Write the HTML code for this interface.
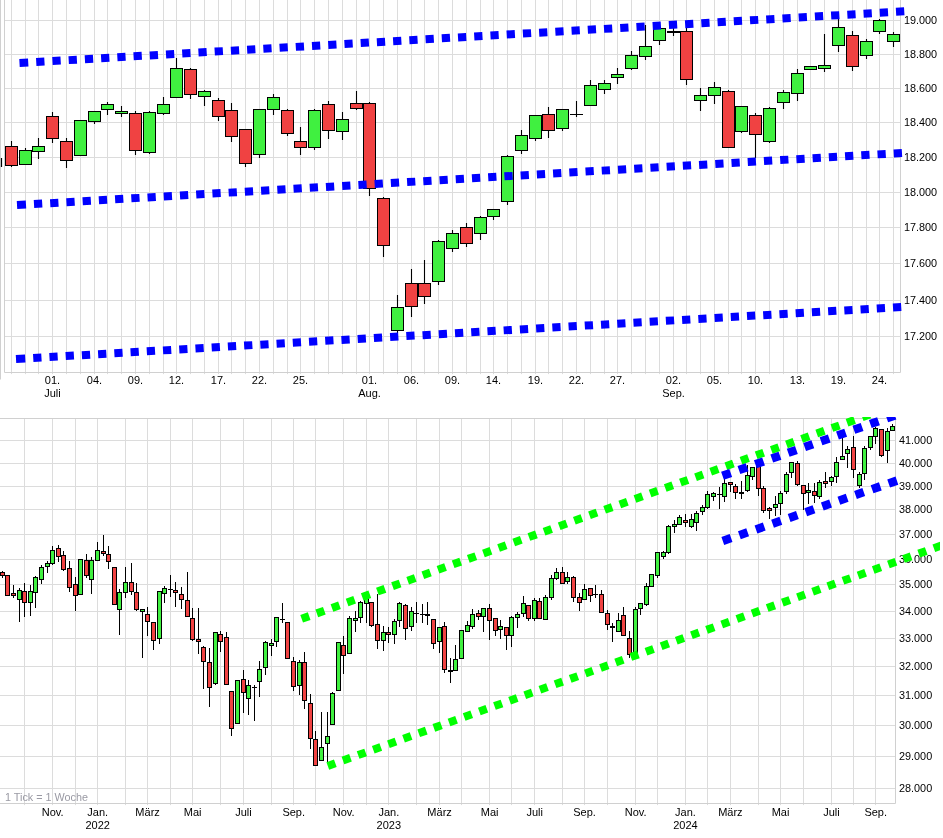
<!DOCTYPE html>
<html lang="de"><head><meta charset="utf-8"><title>Chart</title>
<style>html,body{margin:0;padding:0;background:#fff;}body{width:943px;height:838px;overflow:hidden;}svg{display:block;}</style>
</head><body>
<svg width="943" height="838" viewBox="0 0 943 838">
<rect width="943" height="838" fill="#fff"/>
<g id="top">
<path d="M11.5 0V374.1M25.5 0V374.1M38.5 0V374.1M52.5 0V374.1M66.5 0V374.1M80.5 0V374.1M94.5 0V374.1M107.5 0V374.1M121.5 0V374.1M135.5 0V374.1M149.5 0V374.1M163.5 0V374.1M176.5 0V374.1M190.5 0V374.1M204.5 0V374.1M218.5 0V374.1M231.5 0V374.1M245.5 0V374.1M259.5 0V374.1M273.5 0V374.1M287.5 0V374.1M300.5 0V374.1M314.5 0V374.1M328.5 0V374.1M342.5 0V374.1M356.5 0V374.1M369.5 0V374.1M383.5 0V374.1M397.5 0V374.1M411.5 0V374.1M424.5 0V374.1M438.5 0V374.1M452.5 0V374.1M466.5 0V374.1M480.5 0V374.1M493.5 0V374.1M507.5 0V374.1M521.5 0V374.1M535.5 0V374.1M548.5 0V374.1M562.5 0V374.1M576.5 0V374.1M590.5 0V374.1M604.5 0V374.1M617.5 0V374.1M631.5 0V374.1M645.5 0V374.1M659.5 0V374.1M673.5 0V374.1M686.5 0V374.1M700.5 0V374.1M714.5 0V374.1M728.5 0V374.1M741.5 0V374.1M755.5 0V374.1M769.5 0V374.1M783.5 0V374.1M797.5 0V374.1M810.5 0V374.1M824.5 0V374.1M838.5 0V374.1M852.5 0V374.1M866.5 0V374.1M879.5 0V374.1M893.5 0V374.1M4.5 336.5H900.5M4.5 300.5H900.5M4.5 263.5H900.5M4.5 227.5H900.5M4.5 192.5H900.5M4.5 157.5H900.5M4.5 122.5H900.5M4.5 88.5H900.5M4.5 54.5H900.5M4.5 20.5H900.5" stroke="#dcdcdc" stroke-width="1" fill="none"/>
<path d="M4.5 0V372.5H900.5V0" stroke="#d0d0d0" stroke-width="1" fill="none"/>
<path d="M0.5 0V379.5" stroke="#d0d0d0" stroke-width="1" fill="none"/>
<path d="M1.5 158V167" stroke="#000" stroke-width="1.2"/>
<path d="M11.5 141V167M25.5 148V165M38.5 138V159M52.5 112V143M66.5 138V168M80.5 120V156M94.5 111V124M107.5 102V115M121.5 106V117M135.5 111V155M149.5 111V154M163.5 97V115M176.5 58V98M190.5 68V99M204.5 90V106M218.5 98V121M231.5 103V142M245.5 129V167M259.5 109V158M273.5 94V115M287.5 109V136M300.5 127V155M314.5 109V150M328.5 101V139M342.5 112V140M356.5 91V110M369.5 102V196M383.5 197V257M397.5 295V333M411.5 269V317M424.5 260V304M438.5 240V285M452.5 230V252M466.5 223V247M480.5 216V240M493.5 209V220M507.5 155V205M521.5 130V154M535.5 115V141M548.5 107V138M562.5 109V131M576.5 101V117M590.5 80V106M604.5 80V94M617.5 68V84M631.5 51V70M645.5 25V60M659.5 28V45M673.5 28V36M686.5 28V85M700.5 88V111M714.5 82V104M728.5 90V148M741.5 106V133M755.5 113V158M769.5 107V143M783.5 90V109M797.5 69V101M810.5 66V70M824.5 34V72M838.5 19V52M852.5 31V71M866.5 39V59M879.5 19V34M893.5 32V47" stroke="#000" stroke-width="1.1" fill="none"/>
<rect x="5.5" y="146.5" width="12" height="19" fill="#f04242" stroke="#000" stroke-width="1"/><rect x="19.5" y="150.5" width="12" height="14" fill="#40f040" stroke="#000" stroke-width="1"/><rect x="32.5" y="146.5" width="12" height="5" fill="#40f040" stroke="#000" stroke-width="1"/><rect x="46.5" y="116.5" width="12" height="22" fill="#f04242" stroke="#000" stroke-width="1"/><rect x="60.5" y="141.5" width="12" height="19" fill="#f04242" stroke="#000" stroke-width="1"/><rect x="74.5" y="120.5" width="12" height="35" fill="#40f040" stroke="#000" stroke-width="1"/><rect x="88.5" y="111.5" width="12" height="10" fill="#40f040" stroke="#000" stroke-width="1"/><rect x="101.5" y="104.5" width="12" height="5" fill="#40f040" stroke="#000" stroke-width="1"/><rect x="115.5" y="111.5" width="12" height="2" fill="#40f040" stroke="#000" stroke-width="1"/><rect x="129.5" y="113.5" width="12" height="37" fill="#f04242" stroke="#000" stroke-width="1"/><rect x="143.5" y="112.5" width="12" height="40" fill="#40f040" stroke="#000" stroke-width="1"/><rect x="157.5" y="104.5" width="12" height="9" fill="#40f040" stroke="#000" stroke-width="1"/><rect x="170.5" y="68.5" width="12" height="29" fill="#40f040" stroke="#000" stroke-width="1"/><rect x="184.5" y="69.5" width="12" height="25" fill="#f04242" stroke="#000" stroke-width="1"/><rect x="198.5" y="91.5" width="12" height="5" fill="#40f040" stroke="#000" stroke-width="1"/><rect x="212.5" y="100.5" width="12" height="16" fill="#f04242" stroke="#000" stroke-width="1"/><rect x="225.5" y="110.5" width="12" height="26" fill="#f04242" stroke="#000" stroke-width="1"/><rect x="239.5" y="129.5" width="12" height="34" fill="#f04242" stroke="#000" stroke-width="1"/><rect x="253.5" y="109.5" width="12" height="45" fill="#40f040" stroke="#000" stroke-width="1"/><rect x="267.5" y="97.5" width="12" height="12" fill="#40f040" stroke="#000" stroke-width="1"/><rect x="281.5" y="110.5" width="12" height="23" fill="#f04242" stroke="#000" stroke-width="1"/><rect x="294.5" y="141.5" width="12" height="6" fill="#f04242" stroke="#000" stroke-width="1"/><rect x="308.5" y="110.5" width="12" height="37" fill="#40f040" stroke="#000" stroke-width="1"/><rect x="322.5" y="104.5" width="12" height="26" fill="#f04242" stroke="#000" stroke-width="1"/><rect x="336.5" y="119.5" width="12" height="12" fill="#40f040" stroke="#000" stroke-width="1"/><rect x="350.5" y="103.5" width="12" height="5" fill="#f04242" stroke="#000" stroke-width="1"/><rect x="363.5" y="103.5" width="12" height="85" fill="#f04242" stroke="#000" stroke-width="1"/><rect x="377.5" y="198.5" width="12" height="47" fill="#f04242" stroke="#000" stroke-width="1"/><rect x="391.5" y="307.5" width="12" height="23" fill="#40f040" stroke="#000" stroke-width="1"/><rect x="405.5" y="283.5" width="12" height="23" fill="#f04242" stroke="#000" stroke-width="1"/><rect x="418.5" y="283.5" width="12" height="13" fill="#f04242" stroke="#000" stroke-width="1"/><rect x="432.5" y="241.5" width="12" height="40" fill="#40f040" stroke="#000" stroke-width="1"/><rect x="446.5" y="233.5" width="12" height="15" fill="#40f040" stroke="#000" stroke-width="1"/><rect x="460.5" y="227.5" width="12" height="16" fill="#f04242" stroke="#000" stroke-width="1"/><rect x="474.5" y="217.5" width="12" height="16" fill="#40f040" stroke="#000" stroke-width="1"/><rect x="487.5" y="209.5" width="12" height="7" fill="#40f040" stroke="#000" stroke-width="1"/><rect x="501.5" y="156.5" width="12" height="45" fill="#40f040" stroke="#000" stroke-width="1"/><rect x="515.5" y="135.5" width="12" height="15" fill="#40f040" stroke="#000" stroke-width="1"/><rect x="529.5" y="115.5" width="12" height="23" fill="#40f040" stroke="#000" stroke-width="1"/><rect x="542.5" y="114.5" width="12" height="16" fill="#f04242" stroke="#000" stroke-width="1"/><rect x="556.5" y="109.5" width="12" height="19" fill="#40f040" stroke="#000" stroke-width="1"/><rect x="570" y="114" width="13" height="1" fill="#000"/><rect x="584.5" y="85.5" width="12" height="20" fill="#40f040" stroke="#000" stroke-width="1"/><rect x="598.5" y="83.5" width="12" height="6" fill="#40f040" stroke="#000" stroke-width="1"/><rect x="611.5" y="74.5" width="12" height="3" fill="#40f040" stroke="#000" stroke-width="1"/><rect x="625.5" y="55.5" width="12" height="13" fill="#40f040" stroke="#000" stroke-width="1"/><rect x="639.5" y="46.5" width="12" height="10" fill="#40f040" stroke="#000" stroke-width="1"/><rect x="653.5" y="28.5" width="12" height="12" fill="#40f040" stroke="#000" stroke-width="1"/><rect x="667" y="31" width="13" height="2" fill="#000"/><rect x="680.5" y="31.5" width="12" height="48" fill="#f04242" stroke="#000" stroke-width="1"/><rect x="694.5" y="95.5" width="12" height="5" fill="#40f040" stroke="#000" stroke-width="1"/><rect x="708.5" y="87.5" width="12" height="8" fill="#40f040" stroke="#000" stroke-width="1"/><rect x="722.5" y="91.5" width="12" height="56" fill="#f04242" stroke="#000" stroke-width="1"/><rect x="735.5" y="106.5" width="12" height="25" fill="#40f040" stroke="#000" stroke-width="1"/><rect x="749.5" y="115.5" width="12" height="19" fill="#f04242" stroke="#000" stroke-width="1"/><rect x="763.5" y="108.5" width="12" height="33" fill="#40f040" stroke="#000" stroke-width="1"/><rect x="777.5" y="92.5" width="12" height="10" fill="#40f040" stroke="#000" stroke-width="1"/><rect x="791.5" y="73.5" width="12" height="20" fill="#40f040" stroke="#000" stroke-width="1"/><rect x="804.5" y="66.5" width="12" height="3" fill="#40f040" stroke="#000" stroke-width="1"/><rect x="818.5" y="65.5" width="12" height="3" fill="#40f040" stroke="#000" stroke-width="1"/><rect x="832.5" y="27.5" width="12" height="18" fill="#40f040" stroke="#000" stroke-width="1"/><rect x="846.5" y="35.5" width="12" height="31" fill="#f04242" stroke="#000" stroke-width="1"/><rect x="860.5" y="41.5" width="12" height="14" fill="#40f040" stroke="#000" stroke-width="1"/><rect x="873.5" y="20.5" width="12" height="11" fill="#40f040" stroke="#000" stroke-width="1"/><rect x="887.5" y="34.5" width="12" height="7" fill="#40f040" stroke="#000" stroke-width="1"/>
<line x1="19.5" y1="63" x2="905" y2="11.3" stroke="#0000ff" stroke-width="8" stroke-dasharray="8.75 8 8.25 8 8.25 8 8.25 8 8.25 8 8.25 8 8.25 8 8.25 8 8.25 8 8.25 8 8.25 8 8.25 8 8.25 8 8.25 8 8.25 8 8.25 8 8.25 8 8.25 8 8.25 8 8.25 8 8.25 8 8.25 8 8.25 8 8.25 8 8.25 8 8.25 8 8.25 8 8.25 8 8.25 8 8.25 8 8.25 8 8.25 8 8.25 8 8.25 8 8.25 8 8.25 8 8.25 8 8.25 8 8.25 8 8.25 8 8.25 8 8.25 8 8.25 8 8.25 8 8.25 8 8.25 8 8.25 8 8.25 8 8.25 8 8.25 8 8.25 8 8.25 8 8.25 8 8.25 8 8.25 8 8.25 8 8.25 8"/>
<line x1="17" y1="205.1" x2="903.5" y2="152.84" stroke="#0000ff" stroke-width="8" stroke-dasharray="9 8 8.25 8 8.25 8 8.25 8 8.25 8 8.25 8 8.25 8 8.25 8 8.25 8 8.25 8 8.25 8 8.25 8 8.25 8 8.25 8 8.25 8 8.25 8 8.25 8 8.25 8 8.25 8 8.25 8 8.25 8 8.25 8 8.25 8 8.25 8 8.25 8 8.25 8 8.25 8 8.25 8 8.25 8 8.25 8 8.25 8 8.25 8 8.25 8 8.25 8 8.25 8 8.25 8 8.25 8 8.25 8 8.25 8 8.25 8 8.25 8 8.25 8 8.25 8 8.25 8 8.25 8 8.25 8 8.25 8 8.25 8 8.25 8 8.25 8 8.25 8 8.25 8 8.25 8 8.25 8 8.25 8 8.25 8 8.25 8"/>
<line x1="16" y1="359" x2="902.8" y2="306.95" stroke="#0000ff" stroke-width="8" stroke-dasharray="9.25 8 8.25 8 8.25 8 8.25 8 8.25 8 8.25 8 8.25 8 8.25 8 8.25 8 8.25 8 8.25 8 8.25 8 8.25 8 8.25 8 8.25 8 8.25 8 8.25 8 8.25 8 8.25 8 8.25 8 8.25 8 8.25 8 8.25 8 8.25 8 8.25 8 8.25 8 8.25 8 8.25 8 8.25 8 8.25 8 8.25 8 8.25 8 8.25 8 8.25 8 8.25 8 8.25 8 8.25 8 8.25 8 8.25 8 8.25 8 8.25 8 8.25 8 8.25 8 8.25 8 8.25 8 8.25 8 8.25 8 8.25 8 8.25 8 8.25 8 8.25 8 8.25 8 8.25 8 8.25 8 8.25 8 8.25 8 8.25 8"/>
<g font-family='"Liberation Sans", Arial, sans-serif' font-size="11" fill="#000">
<text x="903.9" y="340.1" font-size="10.85">17.200</text>
<text x="903.9" y="304.1" font-size="10.85">17.400</text>
<text x="903.9" y="267.1" font-size="10.85">17.600</text>
<text x="903.9" y="231.1" font-size="10.85">17.800</text>
<text x="903.9" y="196.1" font-size="10.85">18.000</text>
<text x="903.9" y="161.1" font-size="10.85">18.200</text>
<text x="903.9" y="126.1" font-size="10.85">18.400</text>
<text x="903.9" y="92.1" font-size="10.85">18.600</text>
<text x="903.9" y="58.1" font-size="10.85">18.800</text>
<text x="903.9" y="24.1" font-size="10.85">19.000</text>
<text x="52.5" y="384.2" text-anchor="middle">01.</text>
<text x="52.5" y="397.2" text-anchor="middle">Juli</text>
<text x="94.5" y="384.2" text-anchor="middle">04.</text>
<text x="135.5" y="384.2" text-anchor="middle">09.</text>
<text x="176.5" y="384.2" text-anchor="middle">12.</text>
<text x="218.5" y="384.2" text-anchor="middle">17.</text>
<text x="259.5" y="384.2" text-anchor="middle">22.</text>
<text x="300.5" y="384.2" text-anchor="middle">25.</text>
<text x="369.5" y="384.2" text-anchor="middle">01.</text>
<text x="369.5" y="397.2" text-anchor="middle">Aug.</text>
<text x="411.5" y="384.2" text-anchor="middle">06.</text>
<text x="452.5" y="384.2" text-anchor="middle">09.</text>
<text x="493.5" y="384.2" text-anchor="middle">14.</text>
<text x="535.5" y="384.2" text-anchor="middle">19.</text>
<text x="576.5" y="384.2" text-anchor="middle">22.</text>
<text x="617.5" y="384.2" text-anchor="middle">27.</text>
<text x="673.5" y="384.2" text-anchor="middle">02.</text>
<text x="673.5" y="397.2" text-anchor="middle">Sep.</text>
<text x="714.5" y="384.2" text-anchor="middle">05.</text>
<text x="755.5" y="384.2" text-anchor="middle">10.</text>
<text x="797.5" y="384.2" text-anchor="middle">13.</text>
<text x="838.5" y="384.2" text-anchor="middle">19.</text>
<text x="879.5" y="384.2" text-anchor="middle">24.</text>
</g></g>
<g id="bot">
<path d="M24.5 418.5V805.1M52.5 418.5V805.1M75.5 418.5V805.1M97.5 418.5V805.1M125.5 418.5V805.1M147.5 418.5V805.1M170.5 418.5V805.1M192.5 418.5V805.1M220.5 418.5V805.1M243.5 418.5V805.1M271.5 418.5V805.1M293.5 418.5V805.1M315.5 418.5V805.1M343.5 418.5V805.1M366.5 418.5V805.1M388.5 418.5V805.1M416.5 418.5V805.1M439.5 418.5V805.1M461.5 418.5V805.1M489.5 418.5V805.1M511.5 418.5V805.1M534.5 418.5V805.1M562.5 418.5V805.1M584.5 418.5V805.1M607.5 418.5V805.1M635.5 418.5V805.1M657.5 418.5V805.1M685.5 418.5V805.1M707.5 418.5V805.1M730.5 418.5V805.1M758.5 418.5V805.1M780.5 418.5V805.1M803.5 418.5V805.1M831.5 418.5V805.1M853.5 418.5V805.1M875.5 418.5V805.1M0 788.5H895.5M0 756.5H895.5M0 725.5H895.5M0 695.5H895.5M0 666.5H895.5M0 638.5H895.5M0 611.5H895.5M0 584.5H895.5M0 559.5H895.5M0 534.5H895.5M0 509.5H895.5M0 486.5H895.5M0 463.5H895.5M0 440.5H895.5" stroke="#dcdcdc" stroke-width="1" fill="none"/>
<path d="M0 418.5H895.5V803.5H0" stroke="#d0d0d0" stroke-width="1" fill="none"/>
<text x="5" y="800.5" font-family='"Liberation Sans", Arial, sans-serif' font-size="10.8" fill="#9a9aa4">1 Tick = 1 Woche</text>
<path d="M2.5 571V578M7.5 575V596M13.5 585V598M19.5 588V622M24.5 583V617M30.5 585V616M35.5 576V608M41.5 565V584M47.5 561V573M52.5 546V565M58.5 545V562M63.5 551V571M69.5 561V592M75.5 577V611M80.5 559V595M86.5 554V578M91.5 557V594M97.5 542V561M103.5 535V556M108.5 546V569M114.5 567V605M119.5 589V635M125.5 567V598M131.5 563V595M136.5 583V611M142.5 609V658M147.5 607V636M153.5 622V650M159.5 591V644M164.5 586V603M170.5 575V597M175.5 582V607M181.5 587V609M187.5 572V617M192.5 608V641M198.5 608V654M203.5 646V689M209.5 648V707M215.5 632V685M220.5 631V652M226.5 632V685M231.5 691V736M237.5 680V724M243.5 670V713M248.5 680V715M254.5 685V721M259.5 661V697M265.5 641V675M271.5 639V656M276.5 617V647M282.5 603V623M287.5 622V659M293.5 657V691M299.5 660V695M304.5 652V709M310.5 694V749M315.5 731V766M321.5 712V761M327.5 712V762M332.5 692V725M338.5 642V691M343.5 636V674M349.5 616V654M355.5 611V632M360.5 601V623M366.5 596V623M371.5 602V627M377.5 594V649M383.5 626V651M388.5 627V643M394.5 619V644M399.5 602V627M405.5 604V640M411.5 607V631M416.5 602V623M422.5 604V623M427.5 602V625M433.5 619V649M439.5 627V653M444.5 622V673M450.5 658V683M455.5 645V671M461.5 630V659M467.5 621V632M472.5 609V629M478.5 610V620M483.5 608V632M489.5 604V640M495.5 618V636M500.5 620V639M506.5 627V650M511.5 616V647M517.5 612V628M523.5 596V617M528.5 605V621M534.5 598V621M539.5 598V619M545.5 595V620M551.5 575V600M556.5 568V580M562.5 567V584M567.5 572V584M573.5 576V602M579.5 593V611M584.5 584V600M590.5 588V602M595.5 585V598M601.5 590V613M607.5 610V630M612.5 623V642M618.5 613V632M623.5 607V636M629.5 631V658M635.5 607V653M640.5 603V615M646.5 583V606M651.5 574V587M657.5 552V578M663.5 551V559M668.5 525V554M674.5 520V533M679.5 515V525M685.5 514V527M691.5 514V528M696.5 511V531M702.5 505V515M707.5 491V509M713.5 492V501M719.5 487V509M724.5 479V502M730.5 482V492M735.5 484V499M741.5 481V499M747.5 465V492M752.5 467V480M758.5 464V496M763.5 486V513M769.5 507V519M775.5 496V516M780.5 491V515M786.5 472V494M791.5 462V478M797.5 461V486M803.5 485V510M808.5 483V504M814.5 483V503M819.5 480V499M825.5 472V488M831.5 476V486M836.5 457V483M842.5 438V460M847.5 446V468M853.5 436V478M859.5 472V488M864.5 446V480M870.5 436V450M875.5 427V444M881.5 429V457M887.5 428V463M892.5 424V431" stroke="#000" stroke-width="1" fill="none"/>
<rect x="0.5" y="572.5" width="4" height="3" fill="#f04242" stroke="#000" stroke-width="1"/><rect x="5.5" y="575.5" width="4" height="20" fill="#f04242" stroke="#000" stroke-width="1"/><rect x="11.5" y="593.5" width="4" height="2" fill="#f04242" stroke="#000" stroke-width="1"/><rect x="17.5" y="590.5" width="4" height="9" fill="#40f040" stroke="#000" stroke-width="1"/><rect x="22.5" y="591.5" width="4" height="11" fill="#f04242" stroke="#000" stroke-width="1"/><rect x="28.5" y="591.5" width="4" height="11" fill="#40f040" stroke="#000" stroke-width="1"/><rect x="33.5" y="577.5" width="4" height="15" fill="#40f040" stroke="#000" stroke-width="1"/><rect x="39.5" y="567.5" width="4" height="12" fill="#40f040" stroke="#000" stroke-width="1"/><rect x="45.5" y="563.5" width="4" height="3" fill="#40f040" stroke="#000" stroke-width="1"/><rect x="50.5" y="550.5" width="4" height="13" fill="#40f040" stroke="#000" stroke-width="1"/><rect x="56.5" y="548.5" width="4" height="8" fill="#f04242" stroke="#000" stroke-width="1"/><rect x="61.5" y="555.5" width="4" height="14" fill="#f04242" stroke="#000" stroke-width="1"/><rect x="67.5" y="568.5" width="4" height="19" fill="#f04242" stroke="#000" stroke-width="1"/><rect x="73.5" y="584.5" width="4" height="11" fill="#f04242" stroke="#000" stroke-width="1"/><rect x="78.5" y="559.5" width="4" height="35" fill="#40f040" stroke="#000" stroke-width="1"/><rect x="84.5" y="560.5" width="4" height="15" fill="#f04242" stroke="#000" stroke-width="1"/><rect x="89.5" y="560.5" width="4" height="19" fill="#40f040" stroke="#000" stroke-width="1"/><rect x="95.5" y="550.5" width="4" height="10" fill="#40f040" stroke="#000" stroke-width="1"/><rect x="101.5" y="551.5" width="4" height="2" fill="#f04242" stroke="#000" stroke-width="1"/><rect x="106.5" y="554.5" width="4" height="7" fill="#f04242" stroke="#000" stroke-width="1"/><rect x="112.5" y="567.5" width="4" height="37" fill="#f04242" stroke="#000" stroke-width="1"/><rect x="117.5" y="592.5" width="4" height="17" fill="#40f040" stroke="#000" stroke-width="1"/><rect x="123.5" y="582.5" width="4" height="10" fill="#40f040" stroke="#000" stroke-width="1"/><rect x="129.5" y="582.5" width="4" height="9" fill="#f04242" stroke="#000" stroke-width="1"/><rect x="134.5" y="592.5" width="4" height="17" fill="#f04242" stroke="#000" stroke-width="1"/><rect x="140.5" y="609.5" width="4" height="2" fill="#40f040" stroke="#000" stroke-width="1"/><rect x="145.5" y="614.5" width="4" height="7" fill="#f04242" stroke="#000" stroke-width="1"/><rect x="151.5" y="622.5" width="4" height="18" fill="#f04242" stroke="#000" stroke-width="1"/><rect x="157.5" y="591.5" width="4" height="47" fill="#40f040" stroke="#000" stroke-width="1"/><rect x="162.5" y="588.5" width="4" height="5" fill="#40f040" stroke="#000" stroke-width="1"/><rect x="168" y="589" width="5" height="1" fill="#000"/><rect x="173.5" y="590.5" width="4" height="2" fill="#f04242" stroke="#000" stroke-width="1"/><rect x="179.5" y="594.5" width="4" height="5" fill="#f04242" stroke="#000" stroke-width="1"/><rect x="185.5" y="600.5" width="4" height="16" fill="#f04242" stroke="#000" stroke-width="1"/><rect x="190.5" y="618.5" width="4" height="21" fill="#f04242" stroke="#000" stroke-width="1"/><rect x="196.5" y="639.5" width="4" height="2" fill="#f04242" stroke="#000" stroke-width="1"/><rect x="201.5" y="647.5" width="4" height="14" fill="#f04242" stroke="#000" stroke-width="1"/><rect x="207.5" y="662.5" width="4" height="25" fill="#f04242" stroke="#000" stroke-width="1"/><rect x="213.5" y="632.5" width="4" height="51" fill="#40f040" stroke="#000" stroke-width="1"/><rect x="218.5" y="634.5" width="4" height="7" fill="#f04242" stroke="#000" stroke-width="1"/><rect x="224.5" y="637.5" width="4" height="47" fill="#f04242" stroke="#000" stroke-width="1"/><rect x="229.5" y="691.5" width="4" height="37" fill="#f04242" stroke="#000" stroke-width="1"/><rect x="235.5" y="680.5" width="4" height="43" fill="#40f040" stroke="#000" stroke-width="1"/><rect x="241.5" y="679.5" width="4" height="13" fill="#f04242" stroke="#000" stroke-width="1"/><rect x="246.5" y="685.5" width="4" height="13" fill="#40f040" stroke="#000" stroke-width="1"/><rect x="252" y="687" width="5" height="1" fill="#000"/><rect x="257.5" y="669.5" width="4" height="12" fill="#40f040" stroke="#000" stroke-width="1"/><rect x="263.5" y="642.5" width="4" height="25" fill="#40f040" stroke="#000" stroke-width="1"/><rect x="269.5" y="643.5" width="4" height="2" fill="#40f040" stroke="#000" stroke-width="1"/><rect x="274.5" y="617.5" width="4" height="24" fill="#40f040" stroke="#000" stroke-width="1"/><rect x="280" y="619" width="5" height="1" fill="#000"/><rect x="285.5" y="622.5" width="4" height="36" fill="#f04242" stroke="#000" stroke-width="1"/><rect x="291.5" y="661.5" width="4" height="25" fill="#f04242" stroke="#000" stroke-width="1"/><rect x="297.5" y="662.5" width="4" height="23" fill="#40f040" stroke="#000" stroke-width="1"/><rect x="302.5" y="662.5" width="4" height="38" fill="#f04242" stroke="#000" stroke-width="1"/><rect x="308.5" y="703.5" width="4" height="35" fill="#f04242" stroke="#000" stroke-width="1"/><rect x="313.5" y="739.5" width="4" height="26" fill="#f04242" stroke="#000" stroke-width="1"/><rect x="319.5" y="747.5" width="4" height="13" fill="#40f040" stroke="#000" stroke-width="1"/><rect x="325.5" y="736.5" width="4" height="7" fill="#40f040" stroke="#000" stroke-width="1"/><rect x="330.5" y="693.5" width="4" height="31" fill="#40f040" stroke="#000" stroke-width="1"/><rect x="336.5" y="642.5" width="4" height="48" fill="#40f040" stroke="#000" stroke-width="1"/><rect x="341.5" y="645.5" width="4" height="10" fill="#f04242" stroke="#000" stroke-width="1"/><rect x="347.5" y="618.5" width="4" height="35" fill="#40f040" stroke="#000" stroke-width="1"/><rect x="353.5" y="618.5" width="4" height="2" fill="#40f040" stroke="#000" stroke-width="1"/><rect x="358.5" y="602.5" width="4" height="15" fill="#40f040" stroke="#000" stroke-width="1"/><rect x="364.5" y="598.5" width="4" height="5" fill="#40f040" stroke="#000" stroke-width="1"/><rect x="369.5" y="602.5" width="4" height="23" fill="#f04242" stroke="#000" stroke-width="1"/><rect x="375.5" y="624.5" width="4" height="16" fill="#f04242" stroke="#000" stroke-width="1"/><rect x="381.5" y="632.5" width="4" height="8" fill="#40f040" stroke="#000" stroke-width="1"/><rect x="386.5" y="632.5" width="4" height="2" fill="#f04242" stroke="#000" stroke-width="1"/><rect x="392.5" y="621.5" width="4" height="13" fill="#40f040" stroke="#000" stroke-width="1"/><rect x="397.5" y="603.5" width="4" height="17" fill="#40f040" stroke="#000" stroke-width="1"/><rect x="403.5" y="605.5" width="4" height="23" fill="#f04242" stroke="#000" stroke-width="1"/><rect x="409.5" y="611.5" width="4" height="15" fill="#40f040" stroke="#000" stroke-width="1"/><rect x="414" y="613" width="5" height="1" fill="#000"/><rect x="420" y="614" width="5" height="1" fill="#000"/><rect x="425" y="614" width="5" height="2" fill="#000"/><rect x="431.5" y="619.5" width="4" height="24" fill="#f04242" stroke="#000" stroke-width="1"/><rect x="437.5" y="627.5" width="4" height="14" fill="#40f040" stroke="#000" stroke-width="1"/><rect x="442.5" y="626.5" width="4" height="43" fill="#f04242" stroke="#000" stroke-width="1"/><rect x="448" y="670" width="5" height="2" fill="#000"/><rect x="453.5" y="659.5" width="4" height="11" fill="#40f040" stroke="#000" stroke-width="1"/><rect x="459.5" y="630.5" width="4" height="28" fill="#40f040" stroke="#000" stroke-width="1"/><rect x="465.5" y="625.5" width="4" height="6" fill="#40f040" stroke="#000" stroke-width="1"/><rect x="470.5" y="614.5" width="4" height="12" fill="#40f040" stroke="#000" stroke-width="1"/><rect x="476.5" y="613.5" width="4" height="3" fill="#f04242" stroke="#000" stroke-width="1"/><rect x="481.5" y="608.5" width="4" height="8" fill="#40f040" stroke="#000" stroke-width="1"/><rect x="487.5" y="608.5" width="4" height="12" fill="#f04242" stroke="#000" stroke-width="1"/><rect x="493.5" y="618.5" width="4" height="12" fill="#f04242" stroke="#000" stroke-width="1"/><rect x="498.5" y="626.5" width="4" height="3" fill="#40f040" stroke="#000" stroke-width="1"/><rect x="504.5" y="627.5" width="4" height="8" fill="#f04242" stroke="#000" stroke-width="1"/><rect x="509.5" y="617.5" width="4" height="18" fill="#40f040" stroke="#000" stroke-width="1"/><rect x="515.5" y="614.5" width="4" height="3" fill="#40f040" stroke="#000" stroke-width="1"/><rect x="521.5" y="603.5" width="4" height="10" fill="#40f040" stroke="#000" stroke-width="1"/><rect x="526.5" y="605.5" width="4" height="13" fill="#f04242" stroke="#000" stroke-width="1"/><rect x="532.5" y="600.5" width="4" height="18" fill="#40f040" stroke="#000" stroke-width="1"/><rect x="537.5" y="601.5" width="4" height="17" fill="#f04242" stroke="#000" stroke-width="1"/><rect x="543.5" y="597.5" width="4" height="22" fill="#40f040" stroke="#000" stroke-width="1"/><rect x="549.5" y="578.5" width="4" height="19" fill="#40f040" stroke="#000" stroke-width="1"/><rect x="554.5" y="572.5" width="4" height="6" fill="#40f040" stroke="#000" stroke-width="1"/><rect x="560.5" y="572.5" width="4" height="11" fill="#f04242" stroke="#000" stroke-width="1"/><rect x="565.5" y="577.5" width="4" height="4" fill="#40f040" stroke="#000" stroke-width="1"/><rect x="571.5" y="577.5" width="4" height="20" fill="#f04242" stroke="#000" stroke-width="1"/><rect x="577.5" y="597.5" width="4" height="5" fill="#f04242" stroke="#000" stroke-width="1"/><rect x="582.5" y="589.5" width="4" height="10" fill="#40f040" stroke="#000" stroke-width="1"/><rect x="588.5" y="588.5" width="4" height="7" fill="#f04242" stroke="#000" stroke-width="1"/><rect x="593" y="594" width="5" height="1" fill="#000"/><rect x="599.5" y="594.5" width="4" height="18" fill="#f04242" stroke="#000" stroke-width="1"/><rect x="605.5" y="613.5" width="4" height="11" fill="#f04242" stroke="#000" stroke-width="1"/><rect x="610" y="626" width="5" height="2" fill="#000"/><rect x="616.5" y="620.5" width="4" height="11" fill="#40f040" stroke="#000" stroke-width="1"/><rect x="621.5" y="615.5" width="4" height="20" fill="#f04242" stroke="#000" stroke-width="1"/><rect x="627.5" y="638.5" width="4" height="16" fill="#f04242" stroke="#000" stroke-width="1"/><rect x="633.5" y="609.5" width="4" height="43" fill="#40f040" stroke="#000" stroke-width="1"/><rect x="638.5" y="603.5" width="4" height="5" fill="#40f040" stroke="#000" stroke-width="1"/><rect x="644.5" y="586.5" width="4" height="18" fill="#40f040" stroke="#000" stroke-width="1"/><rect x="649.5" y="574.5" width="4" height="12" fill="#40f040" stroke="#000" stroke-width="1"/><rect x="655.5" y="552.5" width="4" height="23" fill="#40f040" stroke="#000" stroke-width="1"/><rect x="661.5" y="552.5" width="4" height="4" fill="#40f040" stroke="#000" stroke-width="1"/><rect x="666.5" y="526.5" width="4" height="26" fill="#40f040" stroke="#000" stroke-width="1"/><rect x="672.5" y="524.5" width="4" height="2" fill="#40f040" stroke="#000" stroke-width="1"/><rect x="677.5" y="517.5" width="4" height="7" fill="#40f040" stroke="#000" stroke-width="1"/><rect x="683.5" y="520.5" width="4" height="2" fill="#f04242" stroke="#000" stroke-width="1"/><rect x="689.5" y="519.5" width="4" height="7" fill="#40f040" stroke="#000" stroke-width="1"/><rect x="694.5" y="513.5" width="4" height="9" fill="#40f040" stroke="#000" stroke-width="1"/><rect x="700.5" y="507.5" width="4" height="4" fill="#40f040" stroke="#000" stroke-width="1"/><rect x="705.5" y="494.5" width="4" height="13" fill="#40f040" stroke="#000" stroke-width="1"/><rect x="711.5" y="493.5" width="4" height="3" fill="#40f040" stroke="#000" stroke-width="1"/><rect x="717" y="494" width="5" height="1" fill="#000"/><rect x="722.5" y="483.5" width="4" height="13" fill="#40f040" stroke="#000" stroke-width="1"/><rect x="728.5" y="482.5" width="4" height="2" fill="#f04242" stroke="#000" stroke-width="1"/><rect x="733.5" y="486.5" width="4" height="6" fill="#f04242" stroke="#000" stroke-width="1"/><rect x="739" y="492" width="5" height="2" fill="#000"/><rect x="745.5" y="475.5" width="4" height="15" fill="#40f040" stroke="#000" stroke-width="1"/><rect x="750.5" y="467.5" width="4" height="9" fill="#40f040" stroke="#000" stroke-width="1"/><rect x="756.5" y="464.5" width="4" height="24" fill="#f04242" stroke="#000" stroke-width="1"/><rect x="761.5" y="488.5" width="4" height="22" fill="#f04242" stroke="#000" stroke-width="1"/><rect x="767.5" y="508.5" width="4" height="2" fill="#f04242" stroke="#000" stroke-width="1"/><rect x="773.5" y="504.5" width="4" height="3" fill="#40f040" stroke="#000" stroke-width="1"/><rect x="778.5" y="493.5" width="4" height="10" fill="#40f040" stroke="#000" stroke-width="1"/><rect x="784.5" y="474.5" width="4" height="17" fill="#40f040" stroke="#000" stroke-width="1"/><rect x="789.5" y="462.5" width="4" height="10" fill="#40f040" stroke="#000" stroke-width="1"/><rect x="795.5" y="463.5" width="4" height="21" fill="#f04242" stroke="#000" stroke-width="1"/><rect x="801.5" y="485.5" width="4" height="8" fill="#f04242" stroke="#000" stroke-width="1"/><rect x="806.5" y="490.5" width="4" height="2" fill="#40f040" stroke="#000" stroke-width="1"/><rect x="812.5" y="491.5" width="4" height="4" fill="#f04242" stroke="#000" stroke-width="1"/><rect x="817.5" y="482.5" width="4" height="14" fill="#40f040" stroke="#000" stroke-width="1"/><rect x="823.5" y="481.5" width="4" height="2" fill="#f04242" stroke="#000" stroke-width="1"/><rect x="829.5" y="477.5" width="4" height="4" fill="#40f040" stroke="#000" stroke-width="1"/><rect x="834.5" y="462.5" width="4" height="14" fill="#40f040" stroke="#000" stroke-width="1"/><rect x="840.5" y="456.5" width="4" height="3" fill="#40f040" stroke="#000" stroke-width="1"/><rect x="845.5" y="449.5" width="4" height="4" fill="#40f040" stroke="#000" stroke-width="1"/><rect x="851.5" y="447.5" width="4" height="22" fill="#f04242" stroke="#000" stroke-width="1"/><rect x="857.5" y="474.5" width="4" height="11" fill="#40f040" stroke="#000" stroke-width="1"/><rect x="862.5" y="448.5" width="4" height="25" fill="#40f040" stroke="#000" stroke-width="1"/><rect x="868.5" y="436.5" width="4" height="11" fill="#40f040" stroke="#000" stroke-width="1"/><rect x="873.5" y="428.5" width="4" height="8" fill="#40f040" stroke="#000" stroke-width="1"/><rect x="879.5" y="429.5" width="4" height="26" fill="#f04242" stroke="#000" stroke-width="1"/><rect x="885.5" y="431.5" width="4" height="19" fill="#40f040" stroke="#000" stroke-width="1"/><rect x="890.5" y="426.5" width="4" height="4" fill="#40f040" stroke="#000" stroke-width="1"/>
<g font-family='"Liberation Sans", Arial, sans-serif' font-size="11" fill="#000">
<text x="899" y="792.1" font-size="10.85">28.000</text>
<text x="899" y="760.1" font-size="10.85">29.000</text>
<text x="899" y="729.1" font-size="10.85">30.000</text>
<text x="899" y="699.1" font-size="10.85">31.000</text>
<text x="899" y="670.1" font-size="10.85">32.000</text>
<text x="899" y="642.1" font-size="10.85">33.000</text>
<text x="899" y="615.1" font-size="10.85">34.000</text>
<text x="899" y="588.1" font-size="10.85">35.000</text>
<text x="899" y="563.1" font-size="10.85">36.000</text>
<text x="899" y="538.1" font-size="10.85">37.000</text>
<text x="899" y="513.1" font-size="10.85">38.000</text>
<text x="899" y="490.1" font-size="10.85">39.000</text>
<text x="899" y="467.1" font-size="10.85">40.000</text>
<text x="899" y="444.1" font-size="10.85">41.000</text>
<text x="52.6" y="815.5" text-anchor="middle">Nov.</text>
<text x="97.7" y="815.5" text-anchor="middle">Jan.</text>
<text x="97.7" y="828.5" text-anchor="middle">2022</text>
<text x="147.6" y="815.5" text-anchor="middle">März</text>
<text x="192.7" y="815.5" text-anchor="middle">Mai</text>
<text x="243.5" y="815.5" text-anchor="middle">Juli</text>
<text x="293.7" y="815.5" text-anchor="middle">Sep.</text>
<text x="343.7" y="815.5" text-anchor="middle">Nov.</text>
<text x="388.8" y="815.5" text-anchor="middle">Jan.</text>
<text x="388.8" y="828.5" text-anchor="middle">2023</text>
<text x="439.6" y="815.5" text-anchor="middle">März</text>
<text x="489.6" y="815.5" text-anchor="middle">Mai</text>
<text x="534.7" y="815.5" text-anchor="middle">Juli</text>
<text x="584.5" y="815.5" text-anchor="middle">Sep.</text>
<text x="635.6" y="815.5" text-anchor="middle">Nov.</text>
<text x="685.5" y="815.5" text-anchor="middle">Jan.</text>
<text x="685.5" y="828.5" text-anchor="middle">2024</text>
<text x="730.4" y="815.5" text-anchor="middle">März</text>
<text x="780.5" y="815.5" text-anchor="middle">Mai</text>
<text x="831.4" y="815.5" text-anchor="middle">Juli</text>
<text x="875.7" y="815.5" text-anchor="middle">Sep.</text>
</g>
<clipPath id="cb"><rect x="0" y="417" width="940" height="421"/></clipPath><g clip-path="url(#cb)">
<line x1="301.65" y1="618.83" x2="880" y2="410.8" stroke="#00ff00" stroke-width="8" stroke-dasharray="8 8.1"/>
<line x1="327.8" y1="766" x2="950" y2="542.38" stroke="#00ff00" stroke-width="8" stroke-dasharray="8 8.1"/>
<line x1="722.5" y1="475.8" x2="900" y2="413.68" stroke="#0000ff" stroke-width="8.5" stroke-dasharray="8.7 8.7"/>
<line x1="722.8" y1="540.9" x2="900" y2="479.55" stroke="#0000ff" stroke-width="8.5" stroke-dasharray="8.75 8.8"/>
</g>
</g>
</svg>
</body></html>
